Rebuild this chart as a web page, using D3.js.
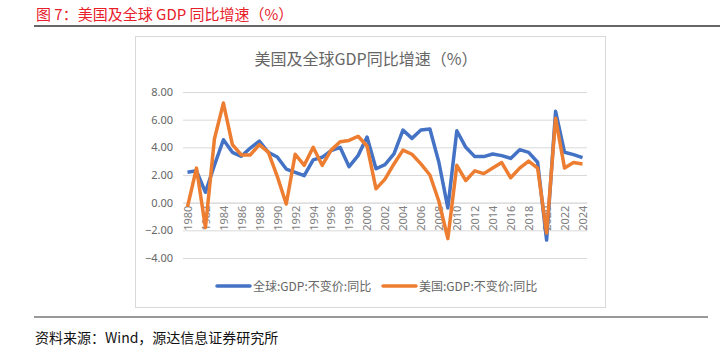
<!DOCTYPE html>
<html><head><meta charset="utf-8">
<script src="https://cdn.jsdelivr.net/npm/d3@7"></script>
<style>body{margin:0;background:#fff;}svg{display:block;font-family:"Noto Sans CJK SC","Noto Sans",sans-serif;}</style>
</head><body>
<script>
const years = d3.range(1980, 2025);
const worldGDP = [2.2,2.3,0.75,2.7,4.55,3.64,3.35,3.95,4.45,3.64,3.3,2.43,2.19,1.95,3.09,3.28,3.76,4.0,2.6,3.4,4.75,2.45,2.75,3.52,5.25,4.65,5.25,5.33,2.92,-0.38,5.2,4.0,3.33,3.33,3.52,3.4,3.2,3.83,3.64,2.92,-2.7,6.6,3.64,3.47,3.25];
const usGDP = [-0.3,2.5,-1.8,4.6,7.2,4.2,3.45,3.45,4.2,3.65,1.9,-0.1,3.5,2.7,4.0,2.7,3.8,4.4,4.5,4.8,4.1,1.0,1.7,2.8,3.8,3.5,2.8,2.0,0.1,-2.6,2.7,1.6,2.3,2.1,2.5,2.9,1.8,2.5,3.0,2.5,-2.2,6.1,2.5,2.9,2.8];
const yTicks = [-4,-2,0,2,4,6,8];
const seriesNames = ["全球:GDP:不变价:同比","美国:GDP:不变价:同比"];
const colors = ["#4472C4","#ED7D31"];

const svg = d3.select("body").append("svg").attr("width",720).attr("height",350);

// header
svg.append("text").attr("x",36).attr("y",20).attr("fill","#e8202a").attr("font-size",15)
  .text("图 7：美国及全球 GDP 同比增速（%）");
svg.append("line").attr("x1",34).attr("x2",720).attr("y1",26).attr("y2",26).attr("stroke","#333").attr("stroke-width",1.5);
svg.append("line").attr("x1",34).attr("x2",708).attr("y1",317).attr("y2",317).attr("stroke","#777").attr("stroke-width",1.5);
svg.append("text").attr("x",35).attr("y",343).attr("fill","#111").attr("font-size",14)
  .text("资料来源：Wind，源达信息证券研究所");

// inner box
svg.append("rect").attr("x",135.5).attr("y",36.5).attr("width",470).attr("height",271)
  .attr("fill","#fff").attr("stroke","#d9d9d9");
svg.append("text").attr("x",366).attr("y",65).attr("text-anchor","middle").attr("fill","#666")
  .attr("font-size",16).text("美国及全球GDP同比增速（%）");

const x = d3.scalePoint().domain(years).range([183,587]).padding(0.5);
const y = d3.scaleLinear().domain([-4,8]).range([258,92]);

// gridlines
svg.append("g").selectAll("line").data(yTicks).join("line")
  .attr("x1",183).attr("x2",587).attr("y1",d=>y(d)+0.5).attr("y2",d=>y(d)+0.5)
  .attr("stroke","#d9d9d9").attr("stroke-width",1);

// y axis
const yAxis = svg.append("g").attr("transform","translate(183,0)")
  .call(d3.axisLeft(y).tickValues(yTicks).tickFormat(d3.format(".2f")).tickSize(0).tickPadding(10));
yAxis.select(".domain").remove();
yAxis.selectAll("text").attr("fill","#666").attr("font-size",11).attr("font-family","'Noto Sans','Noto Sans CJK SC',sans-serif");

// x axis at zero
const xAxis = svg.append("g").attr("transform",`translate(0,${y(0)})`)
  .call(d3.axisBottom(x).tickValues(years.filter(d=>d%2===0)).tickSize(0).tickPadding(0));
xAxis.select(".domain").attr("stroke","#d9d9d9");
xAxis.selectAll("text").attr("fill","#7f7f7f").attr("font-size",11)
  .attr("font-family","'Noto Sans','Noto Sans CJK SC',sans-serif")
  .attr("text-anchor","end").attr("dy","0.35em")
  .attr("transform","translate(0,3) rotate(-90)").attr("x",0).attr("y",0);

// lines
const line = d3.line().x((d,i)=>x(years[i])).y(d=>y(d));
[worldGDP, usGDP].forEach((s,i)=>{
  svg.append("path").datum(s).attr("d",line).attr("fill","none")
    .attr("stroke",colors[i]).attr("stroke-width",3.5).attr("stroke-linejoin","round");
});

// legend
const legX = [217,383];
seriesNames.forEach((n,i)=>{
  svg.append("line").attr("x1",legX[i]).attr("x2",legX[i]+33).attr("y1",286).attr("y2",286)
    .attr("stroke",colors[i]).attr("stroke-width",3.5).attr("stroke-linecap","round");
  svg.append("text").attr("x",legX[i]+36).attr("y",290.5).attr("fill","#666").attr("font-size",12).text(n);
});
</script>
</body></html>
